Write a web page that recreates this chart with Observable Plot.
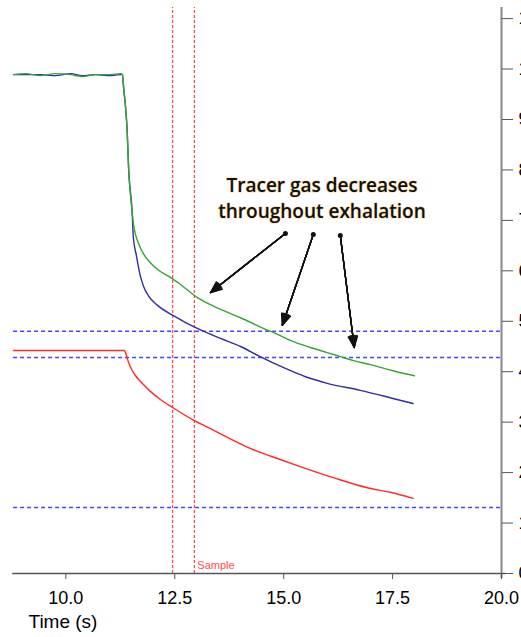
<!DOCTYPE html>
<html>
<head>
<meta charset="utf-8">
<script src="https://cdn.jsdelivr.net/npm/d3@7"></script>
<script src="https://cdn.jsdelivr.net/npm/@observablehq/plot@0.6"></script>
<style>
  html, body { margin: 0; padding: 0; background: #fff; overflow: hidden; }
  #chart svg { overflow: hidden; }
</style>
</head>
<body>
<div id="chart"></div>
<script>
// ---- data ----
const greenTime  = [8.80, 9.07, 9.42, 9.76, 10.11, 10.38, 10.68, 11.02, 11.25, 11.30, 11.32, 11.41, 11.44, 11.52, 11.55, 11.67, 11.78, 11.94, 12.13, 12.40, 12.63, 13.02, 13.32, 13.62, 14.01, 14.53, 14.81, 15.15, 15.61, 16.00, 16.30, 16.60, 16.99, 17.51, 17.79, 18.00];
const greenValue = [9.89, 9.91, 9.87, 9.91, 9.89, 9.85, 9.89, 9.89, 9.91, 9.89, 9.69, 8.72, 8.05, 7.19, 6.94, 6.54, 6.34, 6.16, 6.01, 5.87, 5.73, 5.47, 5.33, 5.21, 5.07, 4.86, 4.76, 4.62, 4.48, 4.38, 4.30, 4.22, 4.14, 4.02, 3.96, 3.92];

const blueTime  = [8.80, 9.07, 9.42, 9.76, 10.11, 10.38, 10.68, 11.02, 11.25, 11.30, 11.32, 11.41, 11.44, 11.52, 11.55, 11.62, 11.69, 11.78, 11.90, 12.10, 12.47, 12.74, 13.02, 13.55, 14.01, 14.46, 15.00, 15.50, 16.00, 16.76, 17.51, 17.97];
const blueValue = [9.89, 9.89, 9.89, 9.87, 9.91, 9.87, 9.89, 9.87, 9.89, 9.89, 9.69, 8.72, 8.05, 7.19, 6.66, 6.30, 5.97, 5.70, 5.50, 5.32, 5.11, 4.98, 4.86, 4.66, 4.50, 4.30, 4.08, 3.90, 3.77, 3.63, 3.47, 3.37];

const redTime  = [8.80, 10.00, 11.00, 11.34, 11.37, 11.41, 11.48, 11.60, 11.71, 11.94, 12.17, 12.45, 12.95, 13.32, 14.23, 14.92, 15.38, 16.14, 16.92, 17.45, 17.97];
const redValue = [4.42, 4.42, 4.42, 4.42, 4.38, 4.26, 4.10, 3.92, 3.81, 3.61, 3.45, 3.29, 3.03, 2.87, 2.48, 2.26, 2.12, 1.90, 1.70, 1.61, 1.49];

const thresholdLevels = [4.80, 4.28, 1.31];
const sampleTimes = [12.45, 12.95];
const xTicks = [10.0, 12.5, 15.0, 17.5, 20.0];
const yTicks = [0, 1, 2, 3, 4, 5, 6, 7, 8, 9, 10, 11];
const noteLines = ["Tracer gas decreases", "throughout exhalation"];
const noteLineValue = [7.69, 7.17];
const noteTime = 15.88;
const arrowFromTime  = [15.04, 15.68, 16.30];
const arrowFromValue = [6.74, 6.72, 6.70];
const arrowToTime    = [13.32, 14.97, 16.62];
const arrowToValue   = [5.57, 4.92, 4.48];
const xLabel = "Time (s)";
const sampleLabel = "Sample";

// ---- tables ----
const series = (t, v) => t.map((d, i) => ({t: d, v: v[i]}));
const green = series(greenTime, greenValue);
const blue = series(blueTime, blueValue);
const red = series(redTime, redValue);
const notes = noteLines.map((s, i) => ({s, v: noteLineValue[i]}));
const arrows = arrowFromTime.map((d, i) => ({x1: d, y1: arrowFromValue[i], x2: arrowToTime[i], y2: arrowToValue[i]}));

// filled-looking arrowheads: several arrows with narrowing head angles
const headAngles = [46, 38, 30, 22, 14, 6];
const arrowMarks = headAngles.map(a =>
  Plot.arrow(arrows, {x1: "x1", y1: "y1", x2: "x2", y2: "y2", stroke: "#111", strokeWidth: 1.3, headLength: 14, headAngle: a})
);

const chart = Plot.plot({
  width: 521,
  height: 637,
  marginLeft: 0,
  marginRight: 20,
  marginTop: 7,
  marginBottom: 64,
  style: {fontFamily: "'Liberation Sans', Arial, sans-serif", background: "#fff"},
  x: {domain: [8.5, 20], axis: null},
  y: {domain: [0, 11.22], axis: null},
  marks: [
    Plot.ruleY(thresholdLevels, {x1: 8.8, x2: 20, stroke: "#4646ff", strokeWidth: 1.5, strokeDasharray: "4,3"}),
    Plot.ruleX(sampleTimes, {y1: 0, y2: 11.22, stroke: "#ff4d4d", strokeWidth: 1.3, strokeDasharray: "3,2"}),
    Plot.line(red, {x: "t", y: "v", stroke: "#ff2a2a", strokeWidth: 1.4, curve: "monotone-x"}),
    Plot.line(blue, {x: "t", y: "v", stroke: "#2f2fa0", strokeWidth: 1.4, curve: "monotone-x"}),
    Plot.line(green, {x: "t", y: "v", stroke: "#34a534", strokeWidth: 1.4, curve: "monotone-x"}),
    Plot.ruleY([0], {x1: 8.78, x2: 20.1, stroke: "#555", strokeWidth: 1.5}),
    Plot.ruleX([20], {y1: -0.1, y2: 11.22, stroke: "#888", strokeWidth: 2}),
    Plot.axisX({ticks: xTicks, tickSize: 6, tickPadding: 12, tickFormat: d3.format(".1f"), fontSize: 18, label: null, stroke: "#555"}),
    Plot.axisY({anchor: "right", ticks: yTicks, tickSize: 11, tickPadding: 6, fontSize: 18, label: null, stroke: "#555", fill: "#000"}),
    Plot.text([xLabel], {frameAnchor: "bottom-left", dx: 28, dy: 54, fontSize: 19, textAnchor: "start", fill: "#000"}),
    Plot.text([sampleLabel], {x: sampleTimes[1], y: 0, dx: 3, dy: -8, textAnchor: "start", fontSize: 11, fill: "#ff4d4d"}),
    Plot.text(notes, {x: noteTime, y: "v", text: "s", fontSize: 19, fontWeight: 600, fontFamily: "'Comic Sans MS', 'Open Sans', sans-serif", fill: "#111", stroke: "#f7c26a", strokeWidth: 1.2, strokeOpacity: 0.7}),
    ...arrowMarks,
    Plot.dot(arrows, {x: "x1", y: "y1", r: 2.5, fill: "#111"})
  ]
});
document.getElementById("chart").appendChild(chart);
</script>
</body>
</html>
